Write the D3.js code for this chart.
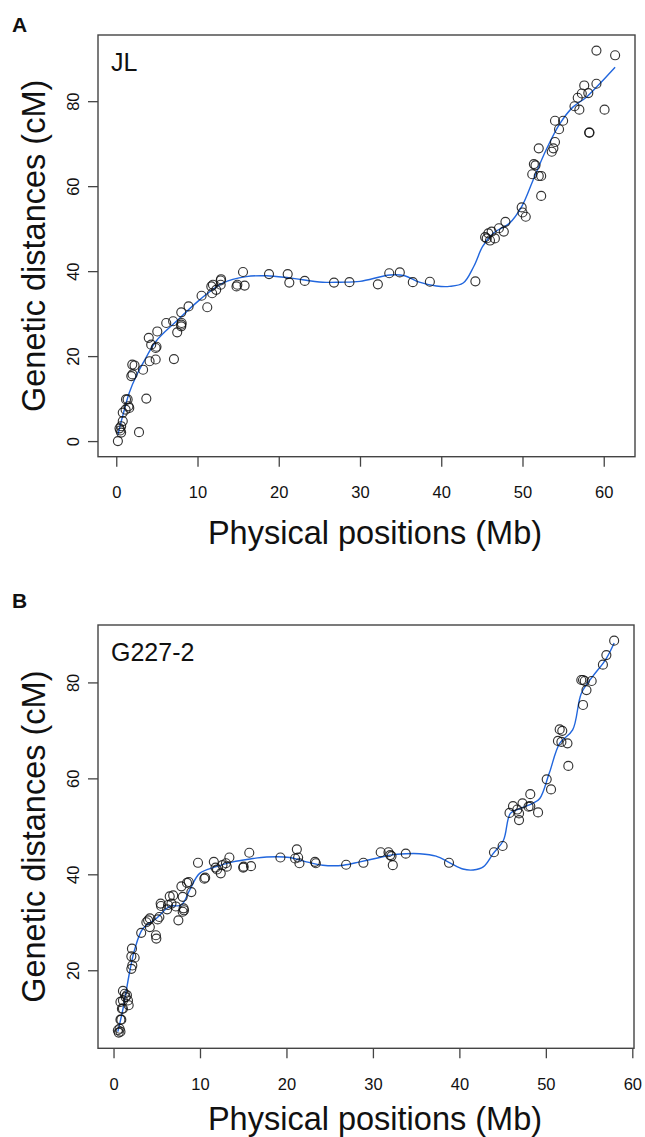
<!DOCTYPE html>
<html><head><meta charset="utf-8">
<script src="https://cdn.jsdelivr.net/npm/d3@7"></script>
<style>
html,body{margin:0;padding:0;background:#fff;}
svg{display:block;font-family:"Liberation Sans",Arial,Helvetica,sans-serif;}
</style></head>
<body>
<svg id="chart" width="645" height="1137"></svg>
<script>
// ---------- Panel A (JL) ----------
const jlPos = [0.2,0.4,0.5,0.6,0.6,0.8,0.8,1.15,1.2,1.4,1.5,1.6,2.8,3.7,1.85,2.0,1.97,2.25,3.3,4.1,4.85,4.0,4.3,4.85,4.95,5.05,6.15,7.1,7.0,7.5,8.0,8.05,8.0,8.0,8.9,10.5,11.2,11.8,11.7,11.9,12.3,12.85,12.9,12.85,14.8,14.9,15.8,15.6,18.8,21.1,21.3,23.2,26.8,28.7,32.2,33.6,34.9,36.5,38.6,44.2,45.4,45.6,45.8,46.0,46.2,46.6,47.1,47.7,47.9,49.9,50.0,50.4,51.2,51.4,51.6,52.0,52.3,52.0,52.3,53.6,53.8,54.0,54.0,55.0,54.5,56.4,56.8,57.0,57.3,57.6,58.1,58.2,58.25,59.1,59.1,60.1,61.4];
const jlDist = [0.0,3.0,2.5,3.5,2.0,4.7,6.7,7.4,9.8,9.8,8.2,7.8,2.1,10.0,15.3,15.7,18.0,17.8,16.8,18.8,19.2,24.3,22.7,21.9,22.2,25.8,27.8,19.3,28.2,25.6,27.0,27.8,27.4,30.3,31.7,34.2,31.5,34.8,36.4,36.8,35.6,37.8,38.1,36.8,36.4,36.8,36.6,39.8,39.3,39.3,37.3,37.7,37.3,37.4,36.9,39.5,39.7,37.4,37.5,37.6,48.0,47.7,48.9,47.2,49.3,47.7,50.1,49.3,51.6,55.0,53.8,52.8,62.8,65.2,64.9,62.4,62.4,68.9,57.7,68.1,68.9,70.4,75.4,75.4,73.4,78.8,80.8,78.0,81.8,83.7,81.9,72.6,72.6,84.1,91.9,78.0,90.8];
const jlFitPos  = [0.2,0.8,1.6,2.5,3.3,4.9,7.4,10.3,13.1,16.0,18.5,21.3,25.4,27.6,30.0,33.7,35.5,37.3,39.4,41.0,42.7,44.0,45.1,46.4,48.4,49.9,51.3,52.9,54.6,56.2,57.9,59.5,61.4];
const jlFitDist = [1.5,6.0,11.4,15.5,18.4,23.5,28.2,33.3,37.2,38.7,38.9,38.4,37.4,37.4,37.6,39.1,38.9,37.4,36.5,36.4,37.2,41.1,45.8,48.9,51.3,55.2,61.4,68.5,74.7,78.6,81.0,84.1,88.0];

// ---------- Panel B (G227-2) ----------
const gPos = [0.5,0.6,0.7,0.8,0.8,0.9,0.97,1.09,1.09,1.3,1.4,1.55,1.67,1.75,0.8,1.09,2.06,2.17,2.13,2.06,2.44,3.2,3.8,4.0,4.2,4.2,4.9,4.95,5.1,5.3,5.45,5.5,6.2,6.3,6.5,6.9,6.7,7.2,7.5,8.0,8.1,8.15,7.85,8.0,8.5,8.7,9.0,9.77,10.5,10.6,11.6,11.8,11.97,12.4,12.6,13.0,13.1,13.4,15.0,15.05,15.7,15.9,19.3,21.0,21.2,21.35,21.5,23.3,23.4,26.9,28.9,30.9,31.8,32.0,32.15,32.3,33.8,38.8,44.0,45.0,45.8,46.2,46.7,46.9,46.9,47.3,48.0,48.2,48.2,49.1,50.1,50.6,51.6,51.9,51.4,51.8,52.5,52.6,54.3,54.1,54.3,54.5,54.7,55.3,56.6,57.0,57.9];
const gDist = [7.5,7.0,7.8,7.2,9.7,9.7,12.0,13.7,15.7,15.1,14.4,14.8,13.7,12.7,13.4,12.0,20.3,21.0,24.5,22.9,22.6,27.8,30.0,30.4,30.8,29.0,27.3,26.6,30.6,31.1,33.9,33.4,32.7,33.6,35.4,35.6,33.9,33.3,30.4,32.2,32.9,32.5,37.5,35.3,38.2,38.4,36.3,42.4,39.1,39.3,42.6,41.4,41.0,40.2,41.9,42.3,41.6,43.5,41.4,41.6,44.5,41.7,43.5,43.3,45.2,43.5,42.3,42.6,42.3,42.0,42.4,44.6,44.6,44.0,43.8,41.9,44.3,42.4,44.6,45.9,52.8,54.2,53.5,51.3,52.7,54.8,54.1,54.2,56.7,52.9,59.8,57.7,70.2,69.9,67.8,67.6,67.3,62.6,75.3,80.5,80.5,80.3,78.4,80.3,83.7,85.7,88.7];
const gFitPos  = [0.5,1.1,1.9,2.44,3.4,4.95,6.5,7.85,8.8,9.96,11.9,13.8,15.8,17.7,20.4,22.3,24.2,26.6,28.5,30.8,32.0,33.8,35.4,37.3,38.9,40.4,41.6,42.8,43.9,45.1,45.9,47.0,48.5,49.3,50.4,51.6,53.1,54.1,55.4,56.9,57.9];
const gFitDist = [7.2,12.0,20.0,24.3,28.7,30.8,33.3,33.6,36.7,40.2,41.6,42.6,43.2,43.6,43.5,42.6,41.9,41.9,42.6,43.5,44.0,44.3,44.3,43.8,42.4,41.1,40.9,41.6,44.3,47.1,52.7,53.7,54.8,55.8,61.1,67.3,70.1,77.7,81.2,84.7,88.2];

const xTicks = [0,10,20,30,40,50,60];
const yTicksA = [0,20,40,60,80];
const yTicksB = [20,40,60,80];
const xTitle = "Physical positions (Mb)";
const yTitle = "Genetic distances (cM)";

const svg = d3.select("#chart");

function pad(ext){ const s=(ext[1]-ext[0])*0.04; return [ext[0]-s, ext[1]+s]; }

function panel(opt){
  const {left,right,top,bottom} = opt.box;
  const x = d3.scaleLinear().domain(pad(d3.extent(opt.px))).range([left,right]);
  const y = d3.scaleLinear().domain(pad(d3.extent(opt.py))).range([bottom,top]);
  const g = svg.append("g");

  // x axis
  const xa = g.append("g").attr("transform",`translate(0,${bottom})`)
    .call(d3.axisBottom(x).tickValues(opt.xTicks).tickSize(10).tickPadding(20).tickFormat(d3.format("d")));
  xa.select(".domain").remove();
  xa.selectAll(".tick line").attr("stroke","#444").attr("stroke-width",1.3);
  xa.selectAll(".tick text").attr("font-size",16.5).attr("fill","#111").attr("font-family",null);

  // y axis
  const ya = g.append("g").attr("transform",`translate(${left},0)`)
    .call(d3.axisLeft(y).tickValues(opt.yTicks).tickSize(10).tickFormat(d3.format("d")));
  ya.select(".domain").remove();
  ya.selectAll(".tick line").attr("stroke","#444").attr("stroke-width",1.3);
  ya.selectAll(".tick text").attr("x",null).attr("dy",null)
    .attr("transform","translate(-19,0) rotate(-90)").attr("text-anchor","middle")
    .attr("font-size",16.5).attr("fill","#111").attr("font-family",null);

  // box
  g.append("rect").attr("x",left).attr("y",top).attr("width",right-left).attr("height",bottom-top)
    .attr("fill","none").attr("stroke","#444").attr("stroke-width",1.4);

  // fitted curve
  const line = d3.line().x((d,i)=>x(opt.fx[i])).y((d,i)=>y(opt.fy[i])).curve(d3.curveCatmullRom.alpha(0.5));
  g.append("path").datum(opt.fx).attr("d",line).attr("fill","none")
    .attr("stroke","#2166dd").attr("stroke-width",1.4);

  // points
  g.append("g").selectAll("circle").data(opt.px).join("circle")
    .attr("cx",(d)=>x(d)).attr("cy",(d,i)=>y(opt.py[i])).attr("r",4.5)
    .attr("fill","none").attr("stroke","#111").attr("stroke-width",1.15).attr("stroke-opacity",0.85);

  // labels
  g.append("text").attr("x",left+13).attr("y",top+36).attr("font-size",25).attr("fill","#111").text(opt.name);
  g.append("text").attr("x",12).attr("y",opt.letterY).attr("font-size",21).attr("font-weight","bold").attr("fill","#111").text(opt.letter);
  g.append("text").attr("x",375).attr("y",bottom+opt.titleOff).attr("text-anchor","middle").attr("font-size",32.5).attr("fill","#111").text(xTitle);
  g.append("text").attr("transform",`translate(45,${(top+bottom)/2}) rotate(-90)`).attr("text-anchor","middle")
    .attr("font-size",32.5).attr("fill","#111").text(yTitle);
}

panel({box:{left:98,right:635,top:35,bottom:456.7}, px:jlPos, py:jlDist, fx:jlFitPos, fy:jlFitDist,
  xTicks:xTicks, yTicks:yTicksA, name:"JL", letter:"A", letterY:32, titleOff:87});
panel({box:{left:98,right:634,top:625,bottom:1048.3}, px:gPos, py:gDist, fx:gFitPos, fy:gFitDist,
  xTicks:xTicks, yTicks:yTicksB, name:"G227-2", letter:"B", letterY:608, titleOff:82});
</script>
</body></html>
